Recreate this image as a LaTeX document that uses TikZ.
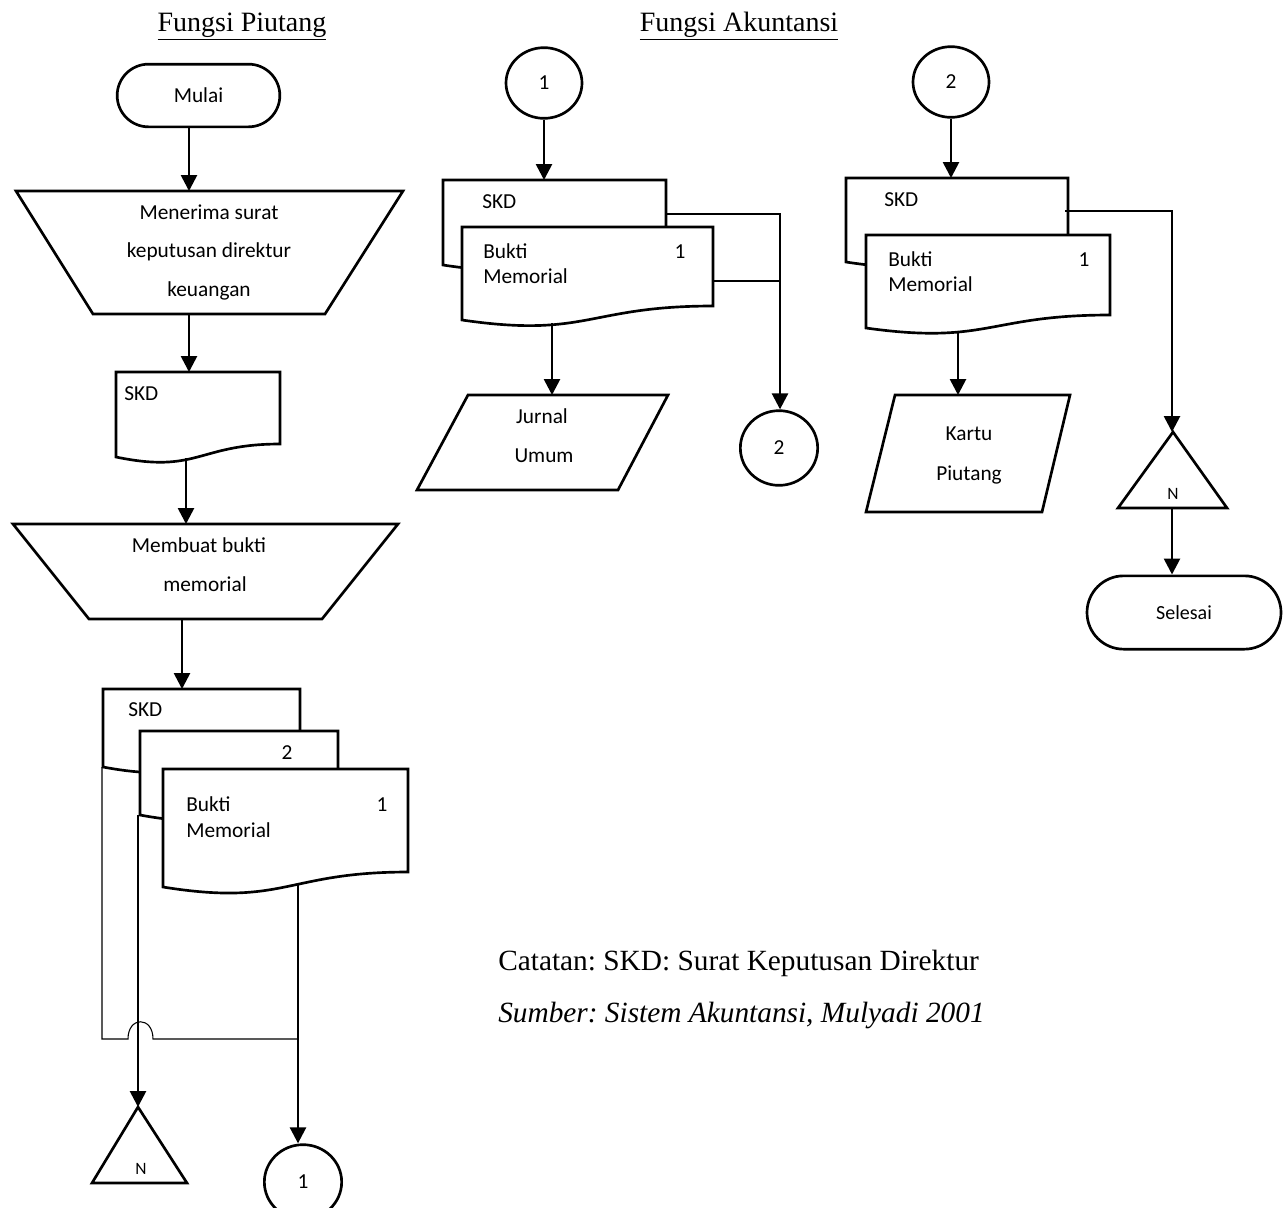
\documentclass[tikz,border=0pt]{standalone}
\usepackage{fontspec}
\setmainfont{Liberation Serif}
\newfontfamily\calfont{Carlito}
\usetikzlibrary{arrows.meta,shapes.geometric,shapes.misc,calc}
\frenchspacing

\tikzset{
  outline/.style={draw=black, line width=2pt, line join=miter, fill=white},
  thinline/.style={draw=black, line width=0.8pt},
  flow/.style={draw=black, line width=2pt, -{Triangle[width=12pt,length=12pt]}},
  bodytext/.style={font=\calfont\fontsize{16}{19}\selectfont, inner sep=0pt,
    text height=0.65em, text depth=0.2em},
  marktext/.style={font=\calfont\fontsize{13}{15}\selectfont, inner sep=0pt},
  terminal/.style={rounded rectangle, outline, inner sep=0pt},
  connector/.style={ellipse, outline, inner sep=0pt,
    font=\calfont\fontsize{16}{19}\selectfont},
  heading/.style={font=\fontsize{21}{25}\selectfont, inner sep=0pt, anchor=base},
  note/.style={font=\fontsize{22}{26}\selectfont, inner sep=0pt, anchor=base west},
}

% document symbol: left x, top y, right x, bottom-left y, bottom-right y
\newcommand\docshape[5]{%
  \draw[outline] (#1,#4) -- (#1,#2) -- (#3,#2) -- (#3,#5)
    .. controls ({(#1+#3)/2},#5) and ({(#1+#3)/2},{#5+2.31*(#4-#5)}) .. (#1,#4) -- cycle;}

\begin{document}
\begin{tikzpicture}[x=0.75pt,y=-0.75pt]
\useasboundingbox[fill=white] (0,0) rectangle (1287,1207);

% ---------- headings ----------
\node[heading] (head1) at (242,31) {\underline{Fungsi Piutang}};
\node[heading] (head2) at (739,31) {\underline{Fungsi Akuntansi}};

% ---------- Fungsi Piutang ----------
\node[terminal, minimum width=122pt, minimum height=47pt,
      font=\calfont\fontsize{16}{19}\selectfont] (mulai) at (198.5,95.5) {Mulai};

\draw[outline] (16,191) -- (403,191) -- (325,314) -- (93,314) -- cycle;
\coordinate (terima-in) at (189,191);
\coordinate (terima-out) at (189,314);
\node[bodytext] (terima1) at (209,216) {Menerima surat};
\node[bodytext] (terima2) at (209,254) {keputusan direktur};
\node[bodytext] (terima3) at (209,293) {keuangan};

\docshape{116}{372}{280}{457}{444}
\coordinate (skd-in) at (189,372);
\coordinate (skd-out) at (186,458);
\node[bodytext, anchor=west] (skd-txt) at (124,397) {SKD};

\draw[outline] (13,524) -- (398,524) -- (322,619) -- (89,619) -- cycle;
\coordinate (buat-in) at (186,524);
\coordinate (buat-out) at (182,619);
\node[bodytext] (buat1) at (199,549) {Membuat bukti};
\node[bodytext] (buat2) at (205,588) {memorial};

% stacked copies: SKD, memorial copy 2, memorial copy 1
\docshape{103}{689}{300}{767}{753}
\docshape{140}{731}{338}{815}{801}
\docshape{163}{769}{408}{887}{872}
\coordinate (stack-in) at (182,689);
\node[bodytext, anchor=west] (stk-skd) at (128,713) {SKD};
\node[bodytext] (stk-two) at (287,756) {2};
\node[bodytext, anchor=west] (stk-bukti) at (186,808) {Bukti};
\node[bodytext, anchor=west] (stk-memo) at (186,834) {Memorial};
\node[bodytext] (stk-one) at (382,808) {1};

\coordinate (skdB-tail) at (102,767);
\coordinate (copy2-tail) at (138,815);
\coordinate (copy1-out) at (298,885);
\coordinate (bend) at (102,1039);
\coordinate (jmpL) at (128,1039);
\coordinate (jmpR) at (153,1039);
\coordinate (joinR) at (298,1039);
\coordinate (drop) at (138,1040);

% archive (left) and off-page connector 1
\draw[outline] (138,1107) -- (187,1183) -- (92,1183) -- cycle;
\coordinate (arsip1-top) at (138,1107);
\node[marktext] (arsip1-n) at (141,1169) {N};
\node[connector, minimum width=58pt, minimum height=56pt] (conn1b) at (303,1182) {1};

% ---------- Fungsi Akuntansi: journal ----------
\node[connector, minimum width=57pt, minimum height=53pt] (conn1a) at (544,83) {1};
\docshape{443}{180}{666}{265}{252}
\docshape{462}{227}{713}{320}{306}
\coordinate (skdM-in) at (544,180);
\node[bodytext, anchor=west] (m-skd) at (482,205) {SKD};
\node[bodytext, anchor=west] (m-bukti) at (483,255) {Bukti};
\node[bodytext, anchor=west] (m-memo) at (483,280) {Memorial};
\node[bodytext] (m-one) at (680,255) {1};
\coordinate (bmM-out) at (552,323);
\coordinate (skdM-side) at (665,214);
\coordinate (bmM-side) at (713,281);
\coordinate (busM) at (780,214);
\coordinate (busM2) at (780,281);
\coordinate (busM3) at (780,317);

\draw[outline] (468,395) -- (668,395) -- (618,490) -- (417,490) -- cycle;
\coordinate (jurnal-in) at (552,395);
\node[bodytext] (jurnal1) at (542,420) {Jurnal};
\node[bodytext] (jurnal2) at (544,459) {Umum};

\node[connector, minimum width=58pt, minimum height=56pt] (conn2a) at (779,448) {2};

% ---------- Fungsi Akuntansi: ledger card ----------
\node[connector, minimum width=57pt, minimum height=53pt] (conn2b) at (951,82) {2};
\docshape{846}{178}{1068}{262}{249}
\docshape{866}{235}{1110}{328}{315}
\coordinate (skdR-in) at (951,178);
\node[bodytext, anchor=west] (r-skd) at (884,203) {SKD};
\node[bodytext, anchor=west] (r-bukti) at (888,263) {Bukti};
\node[bodytext, anchor=west] (r-memo) at (888,288) {Memorial};
\node[bodytext] (r-one) at (1084,263) {1};
\coordinate (bmR-out) at (958,331);
\coordinate (skdR-side) at (1065,211);
\coordinate (busR) at (1172,211);
\coordinate (busR2) at (1172,338);

\draw[outline] (895,395) -- (1070,395) -- (1042,512) -- (866,512) -- cycle;
\coordinate (kartu-in) at (958,395);
\node[bodytext] (kartu1) at (969,437) {Kartu};
\node[bodytext] (kartu2) at (969,477) {Piutang};

\draw[outline] (1173,432) -- (1227,508) -- (1118,508) -- cycle;
\coordinate (arsip2-top) at (1172,432);
\coordinate (arsip2-base) at (1172,508);
\node[marktext] (arsip2-n) at (1173,494) {N};

\node[terminal, minimum width=145.5pt, minimum height=55pt,
      font=\calfont\fontsize{15}{18}\selectfont] (selesai) at (1184,612.5) {Selesai};

% ---------- connectors ----------
\draw[flow] (mulai.south -| terima-in) -- (terima-in);
\draw[flow] (terima-out) -- (skd-in);
\draw[flow] (skd-out) -- (buat-in);
\draw[flow] (buat-out) -- (stack-in);

\draw[thinline] (skdB-tail) -- (bend) -- (jmpL)
  .. controls (128,1016) and (153,1016) .. (jmpR) -- (joinR);
\draw[thinline] (copy2-tail) -- (drop);
\draw[flow] (drop) -- (arsip1-top);
\draw[flow] (copy1-out) -- (copy1-out |- conn1b.north);

\draw[flow] (conn1a) -- (skdM-in);
\draw[flow] (bmM-out) -- (jurnal-in);
\draw[thinline] (skdM-side) -- (busM) -- (busM3);
\draw[thinline] (bmM-side) -- (busM2);
\draw[flow] (busM3) -- (busM3 |- conn2a.north);

\draw[flow] (conn2b) -- (skdR-in);
\draw[flow] (bmR-out) -- (kartu-in);
\draw[thinline] (skdR-side) -- (busR) -- (busR2);
\draw[flow] (busR2) -- (arsip2-top);
\draw[flow] (arsip2-base) -- (arsip2-base |- selesai.north);

% ---------- notes ----------
\node[note] (note1) at (498,970) {Catatan: SKD: Surat Keputusan Direktur};
\node[note] (note2) at (498,1022) {\itshape Sumber: Sistem Akuntansi, Mulyadi 2001};
\end{tikzpicture}
\end{document}
